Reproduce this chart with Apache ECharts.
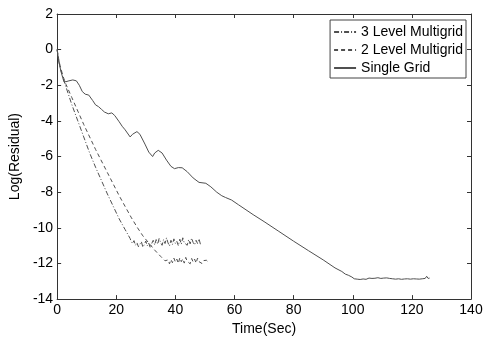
<!DOCTYPE html>
<html>
<head>
<meta charset="utf-8">
<script src="https://cdn.jsdelivr.net/npm/echarts@6/dist/echarts.min.js"></script>
<style>html,body{margin:0;padding:0;background:#fff}#c{width:490px;height:341px}</style>
</head>
<body>
<div id="c"></div>
<script>
const seriesNames = ['3 Level Multigrid', '2 Level Multigrid', 'Single Grid'];
const xTicks = [0, 20, 40, 60, 80, 100, 120, 140];
const yTicks = [-14, -12, -10, -8, -6, -4, -2, 0, 2];

// 3 level multigrid: [time, log residual]
const level3 = [
  [0,0],[0.5,-0.6],[1,-1.0],[2,-1.6],[3,-2.1],[5,-3.1],[7,-4.0],[9,-4.9],[11,-5.8],[13,-6.6],[15,-7.35],[17,-8.1],[19,-8.8],[21,-9.5],[23,-10.1],[24.7,-10.6],
  [25,-10.75],[25.5,-10.88],[26,-10.72],[26.5,-10.98],[27,-10.84],[27.5,-11.06],[28,-10.92],[28.5,-10.78],[29,-11.08],[29.5,-10.94],[30,-10.74],[30.5,-11.02],
  [31,-10.86],[31.5,-11.12],[32,-10.88],[32.5,-10.70],[33,-10.96],[33.5,-10.66],[34,-10.92],[34.5,-10.60],[35,-10.82],[35.5,-10.98],[36,-10.66],[36.5,-10.88],
  [37,-10.56],[37.5,-10.84],[38,-11.02],[38.5,-10.70],[39,-10.94],[39.5,-10.62],[40,-10.88],[40.5,-10.76],[41,-11.00],[41.5,-10.64],[42,-10.92],[42.5,-10.56],
  [43,-10.84],[43.5,-10.74],[44,-10.98],[44.5,-10.66],[45,-10.90],[45.5,-10.58],[46,-10.82],[46.5,-10.96],[47,-10.70],[47.5,-10.88],[48,-10.62],[48.5,-10.94],[48.7,-10.86]
];

// 2 level multigrid
const level2 = [
  [0,0],[0.5,-0.5],[1,-0.9],[2,-1.5],[3,-1.95],[5,-2.7],[7,-3.45],[9,-4.2],[11,-4.9],[13,-5.6],[15,-6.25],[17,-6.9],[19,-7.55],[21,-8.2],[23,-8.8],[25,-9.4],
  [27,-9.95],[29,-10.45],[31,-10.85],[33,-11.25],[35,-11.6],[36.5,-11.85],
  [37,-11.95],[37.5,-11.80],[38,-12.02],[38.5,-11.78],[39,-11.96],[39.5,-11.70],[40,-11.92],[40.5,-11.76],[41,-12.00],[41.5,-11.68],[42,-11.90],[42.5,-11.74],
  [43,-11.98],[43.5,-11.66],[44,-11.88],[44.5,-11.78],[45,-12.02],[45.5,-11.72],[46,-11.92],[46.5,-11.76],[47,-11.98],[47.5,-11.70],[48,-11.90],[48.5,-11.80],
  [49,-12.00],[49.5,-11.84],[50,-11.94],[50.5,-11.82],[51,-11.90]
];

// single grid
const single = [
  [0,0],[0.5,-0.6],[1,-1.0],[1.5,-1.35],[2.3,-1.8],[3,-1.8],[4,-1.75],[5.3,-1.7],[6.5,-1.75],[7.5,-2.0],[8.5,-2.35],[9.5,-2.5],[10.7,-2.55],[12,-2.85],
  [13,-3.1],[14,-3.2],[15,-3.35],[16,-3.5],[17.3,-3.6],[18.5,-3.55],[19.5,-3.7],[21,-4.05],[22,-4.3],[23,-4.5],[24.7,-4.9],[25.5,-4.75],[27,-4.6],[28,-4.75],
  [29.7,-5.3],[31,-5.75],[32.3,-6.0],[33,-5.8],[34.2,-5.65],[35.5,-5.8],[37,-6.2],[38.5,-6.55],[39.7,-6.68],[41,-6.62],[42.3,-6.63],[44,-6.85],[46,-7.2],
  [48,-7.45],[50.3,-7.5],[52,-7.7],[54,-8.0],[55.7,-8.2],[57,-8.3],[59,-8.44],[61.3,-8.7],[66.3,-9.26],[70,-9.65],[75,-10.2],[80,-10.75],[85,-11.28],
  [90,-11.8],[94,-12.25],[96.3,-12.45],[97.5,-12.6],[98.5,-12.66],[99.7,-12.76],
  [100,-12.80],[100.5,-12.86],[101,-12.82],[101.5,-12.88],[102,-12.84],[102.5,-12.90],[103,-12.83],[103.5,-12.87],[104,-12.81],[104.5,-12.89],[105,-12.85],
  [105.5,-12.82],[106,-12.88],[106.5,-12.84],[107,-12.90],[107.5,-12.83],[108,-12.86],[108.5,-12.80],[109,-12.87],[109.5,-12.84],[110,-12.89],[110.5,-12.82],
  [111,-12.86],[111.5,-12.81],[112,-12.88],[112.5,-12.84],[113,-12.79],[113.5,-12.86],[114,-12.83],[114.5,-12.88],[115,-12.80],[115.5,-12.86],[116,-12.82],
  [116.5,-12.89],[117,-12.84],[117.5,-12.87],[118,-12.80],[118.5,-12.86],[119,-12.83],[119.5,-12.88],[120,-12.82],[120.5,-12.86],[121,-12.80],[121.5,-12.87],
  [122,-12.84],[122.5,-12.88],[123,-12.82],[123.5,-12.86],[124,-12.80],[124.5,-12.84],[125,-12.72],[125.5,-12.84],[126,-12.82]
];

const FONT = "'Liberation Sans', Arial, sans-serif";
const axisCol = '#333';
const chart = echarts.init(document.getElementById('c'), null, {renderer: 'canvas'});

function xAx(pos, showLabels) {
  return {
    type: 'value', position: pos, min: xTicks[0], max: xTicks[xTicks.length - 1], interval: xTicks[1] - xTicks[0],
    axisLine: {show: true, onZero: false, lineStyle: {color: axisCol, width: 1}},
    axisTick: {show: true, inside: true, length: 4, lineStyle: {color: axisCol}},
    splitLine: {show: false},
    axisLabel: {show: showLabels, color: '#000', fontSize: 14, fontFamily: FONT, margin: 4},
    name: showLabels ? 'Time(Sec)' : '', nameLocation: 'middle', nameGap: 18,
    nameTextStyle: {color: '#000', fontSize: 14, fontFamily: FONT}
  };
}
function yAx(pos, showLabels) {
  return {
    type: 'value', position: pos, min: yTicks[0], max: yTicks[yTicks.length - 1], interval: yTicks[1] - yTicks[0],
    axisLine: {show: true, onZero: false, lineStyle: {color: axisCol, width: 1}},
    axisTick: {show: true, inside: true, length: 4, lineStyle: {color: axisCol}},
    splitLine: {show: false},
    axisLabel: {show: showLabels, color: '#000', fontSize: 14, fontFamily: FONT, margin: 4},
    name: showLabels ? 'Log(Residual)' : '', nameLocation: 'middle', nameGap: 23, nameRotate: 90,
    nameTextStyle: {color: '#000', fontSize: 14, fontFamily: FONT}
  };
}

const lineCol = '#505050';
chart.setOption({
  animation: false,
  backgroundColor: '#fff',
  grid: {left: 51, right: 19, top: 14, bottom: 36},
  xAxis: [xAx('bottom', true), xAx('top', false)],
  yAxis: [yAx('left', true), yAx('right', false)],
  legend: {
    data: seriesNames, orient: 'vertical', right: 24, top: 20,
    backgroundColor: '#fff', borderColor: '#444', borderWidth: 1, borderRadius: 0,
    padding: [5, 3, 3, 3], itemWidth: 22, itemHeight: 14, itemGap: 4,
    textStyle: {color: '#000', fontSize: 14, fontFamily: FONT},
    itemStyle: {opacity: 0}
  },
  series: [
    {name: seriesNames[0], type: 'line', data: level3, symbol: 'none', lineStyle: {color: lineCol, width: 1, type: [5, 2, 1, 2]}, itemStyle: {color: lineCol}},
    {name: seriesNames[1], type: 'line', data: level2, symbol: 'none', lineStyle: {color: lineCol, width: 1, type: [4, 3]}, itemStyle: {color: lineCol}},
    {name: seriesNames[2], type: 'line', data: single, symbol: 'none', lineStyle: {color: lineCol, width: 1}, itemStyle: {color: lineCol}}
  ]
});
</script>
</body>
</html>
